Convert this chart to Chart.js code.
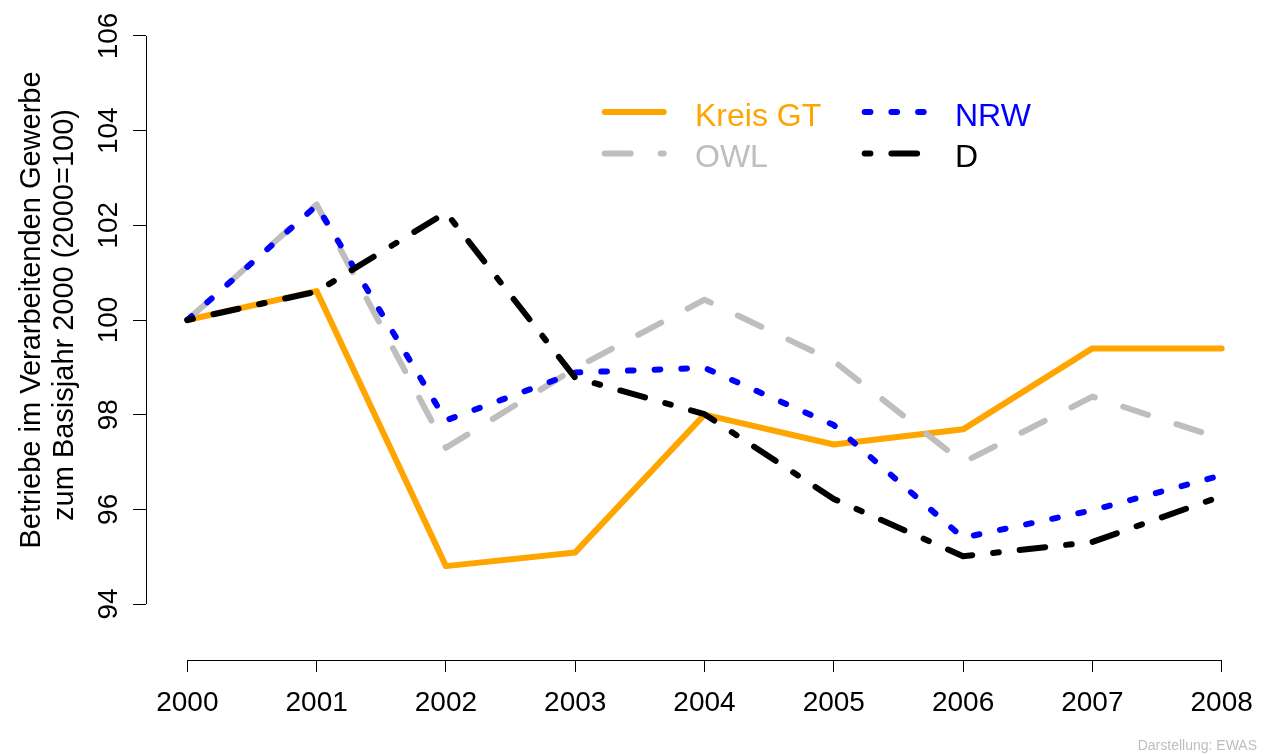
<!DOCTYPE html>
<html>
<head>
<meta charset="utf-8">
<script src="https://cdn.jsdelivr.net/npm/chart.js@4.4.1/dist/chart.umd.min.js"></script>
<style>
  html, body { margin: 0; padding: 0; background: #fff; }
  #wrap { width: 1266px; height: 754px; position: relative; }
  canvas { display: block; }
</style>
</head>
<body>
<div id="wrap"><canvas id="c" width="1266" height="754"></canvas></div>
<script>
// ---- data ----
const years = [2000, 2001, 2002, 2003, 2004, 2005, 2006, 2007, 2008];
const kreisGT = [100, 100.61, 94.80, 95.09, 98.00, 97.37, 97.69, 99.40, 99.40];
const owl     = [100, 102.44, 97.30, 98.98, 100.43, 99.13, 96.99, 98.38, 97.49];
const nrw     = [100, 102.42, 97.88, 98.89, 98.99, 97.78, 95.40, 95.98, 96.72];
const dAll    = [100, 100.60, 102.27, 98.78, 98.01, 96.22, 95.01, 95.31, 96.28];
const seriesNames = ['Kreis GT', 'OWL', 'NRW', 'D'];
const xTicks = [2000, 2001, 2002, 2003, 2004, 2005, 2006, 2007, 2008];
const yTicks = [94, 96, 98, 100, 102, 104, 106];
const yTitle = ['Betriebe im Verarbeitenden Gewerbe', 'zum Basisjahr 2000 (2000=100)'];
const credit = 'Darstellung: EWAS';

const FONT = '"Liberation Sans", Arial, Helvetica, sans-serif';

function pts(vals) { return years.map((yr, i) => ({ x: yr, y: vals[i] })); }

const styles = [
  { color: '#FFA500', dash: [], order: 4 },
  { color: '#BEBEBE', dash: [26, 30], order: 3 },
  { color: '#0000FF', dash: [5.7, 21], order: 2 },
  { color: '#000000', dash: [5.7, 21, 25.7, 21], order: 1 }
];
const valueSets = [kreisGT, owl, nrw, dAll];

const datasets = seriesNames.map((name, i) => ({
  label: name,
  data: pts(valueSets[i]),
  borderColor: styles[i].color,
  backgroundColor: styles[i].color,
  borderWidth: 6,
  borderDash: styles[i].dash,
  borderCapStyle: 'round',
  borderJoinStyle: 'round',
  pointRadius: 0,
  tension: 0,
  fill: false,
  order: styles[i].order
}));

const rPlugin = {
  id: 'rstyle',
  afterDraw(chart) {
    const ctx = chart.ctx;
    const xs = chart.scales.x, ys = chart.scales.y;
    const ca = chart.chartArea;
    ctx.save();
    // axis lines (R style: first to last tick)
    ctx.strokeStyle = '#000';
    ctx.lineWidth = 1;
    ctx.beginPath();
    const xl = Math.round(ca.left) + 0.5;
    ctx.moveTo(xl, ys.getPixelForValue(yTicks[0]));
    ctx.lineTo(xl, ys.getPixelForValue(yTicks[yTicks.length - 1]));
    const yb = Math.round(ca.bottom) + 0.5;
    ctx.moveTo(xs.getPixelForValue(xTicks[0]), yb);
    ctx.lineTo(xs.getPixelForValue(xTicks[xTicks.length - 1]), yb);
    ctx.stroke();

    // y-axis title (rotated, two lines)
    ctx.fillStyle = '#000';
    ctx.font = '29px ' + FONT;
    ctx.textAlign = 'center';
    ctx.textBaseline = 'alphabetic';
    const titleX = [40, 73];
    const titleY = [310, 315];
    yTitle.forEach((t, i) => {
      ctx.save();
      ctx.translate(titleX[i], titleY[i]);
      ctx.rotate(-Math.PI / 2);
      ctx.fillText(t, 0, 0);
      ctx.restore();
    });

    // legend
    const legendPos = [
      { lx: 604.7, ly: 112, tx: 695, ty: 126 },
      { lx: 604.7, ly: 153.5, tx: 695, ty: 167 },
      { lx: 864.7, ly: 112, tx: 955, ty: 126 },
      { lx: 864.7, ly: 153.5, tx: 955, ty: 167 }
    ];
    ctx.font = '32px ' + FONT;
    ctx.textAlign = 'left';
    chart.data.datasets.forEach((ds, i) => {
      const p = legendPos[i];
      ctx.save();
      ctx.strokeStyle = ds.borderColor;
      ctx.lineWidth = ds.borderWidth;
      ctx.lineCap = 'round';
      ctx.setLineDash(ds.borderDash);
      ctx.beginPath();
      ctx.moveTo(p.lx, p.ly);
      ctx.lineTo(p.lx + 59, p.ly);
      ctx.stroke();
      ctx.restore();
      ctx.fillStyle = ds.borderColor;
      ctx.fillText(ds.label, p.tx, p.ty);
    });

    // credit
    ctx.font = '14px ' + FONT;
    ctx.fillStyle = '#BEBEBE';
    ctx.textAlign = 'right';
    ctx.fillText(credit, 1257, 750);
    ctx.restore();
  }
};

new Chart(document.getElementById('c'), {
  type: 'line',
  data: { datasets },
  options: {
    responsive: false,
    animation: false,
    events: [],
    layout: { padding: { top: 12, right: 3, left: 0, bottom: 0 } },
    plugins: { legend: { display: false }, tooltip: { enabled: false }, title: { display: false } },
    scales: {
      x: {
        type: 'linear',
        min: 1999.68,
        max: 2008.32,
        afterBuildTicks: s => { s.ticks = xTicks.map(v => ({ value: v })); },
        afterFit: s => { s.height = 94; s.paddingLeft = 0; s.paddingRight = 0; },
        border: { display: false },
        grid: { drawOnChartArea: false, drawTicks: true, tickLength: 12, tickColor: '#000', lineWidth: 1 },
        ticks: {
          color: '#000',
          font: { family: FONT, size: 28 },
          padding: 14,
          maxRotation: 0,
          minRotation: 0,
          autoSkip: false,
          callback: v => String(v)
        }
      },
      y: {
        type: 'linear',
        min: 92.817,
        max: 106.507,
        afterBuildTicks: s => { s.ticks = yTicks.map(v => ({ value: v })); },
        afterFit: s => { s.width = 146; s.paddingTop = 0; s.paddingBottom = 0; },
        border: { display: false },
        grid: { drawOnChartArea: false, drawTicks: true, tickLength: 13, tickColor: '#000', lineWidth: 1 },
        ticks: {
          color: '#000',
          font: { family: FONT, size: 28 },
          padding: 0,
          minRotation: 90,
          maxRotation: 90,
          crossAlign: 'center',
          autoSkip: false,
          callback: v => String(v)
        }
      }
    }
  },
  plugins: [rPlugin]
});
</script>
</body>
</html>
